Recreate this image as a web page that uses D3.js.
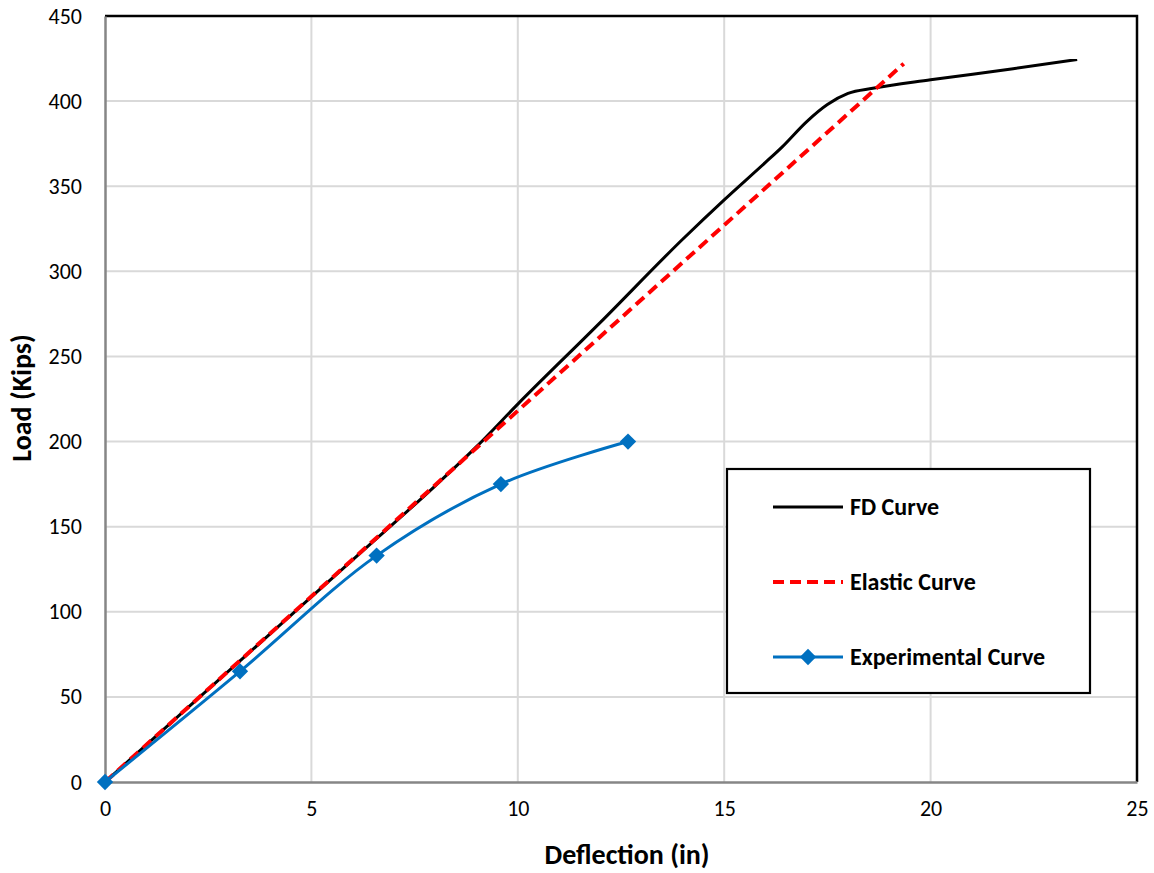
<!DOCTYPE html>
<html><head><meta charset="utf-8">
<script src="https://cdn.jsdelivr.net/npm/d3@7"></script>
<style>body{margin:0;background:#fff}svg{display:block}</style>
</head><body><svg id="c" width="1154" height="873"></svg>
<script>
const xTicks = [0,5,10,15,20,25];
const yTicks = [0,50,100,150,200,250,300,350,400,450];
const fdX = [0,2,4,6,8,9,10,12,14,15,16,16.4,17,17.5,18,18.6,20,22,23.55];
const fdY = [0,43.5,87,130.5,174,197,222,270,319,342,364,373,388,398,404.5,407.5,412.5,419,424.5];
const elX = [0,19.35];
const elY = [0,422];
const exX = [0,3.27,6.58,9.59,12.67];
const exY = [0,65,133,175,200];
const seriesNames = ["FD Curve","Elastic Curve","Experimental Curve"];

const svg = d3.select("#c");
const L=105,R=1137,T=16,B=782;
const x = d3.scaleLinear().domain([0,25]).range([L,R]);
const y = d3.scaleLinear().domain([0,450]).range([B,T]);
const font = "Carlito, Calibri, Lato, 'Open Sans', sans-serif";

// gridlines
svg.append("g").selectAll("line.v").data(xTicks.slice(1)).join("line")
  .attr("x1",d=>x(d)).attr("x2",d=>x(d)).attr("y1",T).attr("y2",B)
  .attr("stroke","#d9d9d9").attr("stroke-width",2);
svg.append("g").selectAll("line.h").data(yTicks.slice(1)).join("line")
  .attr("x1",L).attr("x2",R).attr("y1",d=>y(d)).attr("y2",d=>y(d))
  .attr("stroke","#d9d9d9").attr("stroke-width",2);

// border top/right
svg.append("path").attr("d",`M${L},${T}H${R}V${B}`).attr("fill","none")
  .attr("stroke","#000").attr("stroke-width",2.5);

// axes
const xa = svg.append("g").attr("transform",`translate(0,${B})`)
  .call(d3.axisBottom(x).tickValues(xTicks).tickSize(0).tickPadding(18));
const ya = svg.append("g").attr("transform",`translate(${L},0)`)
  .call(d3.axisLeft(y).tickValues(yTicks).tickSize(0).tickPadding(23));
[xa,ya].forEach(a=>{
  a.select(".domain").attr("stroke","#868686").attr("stroke-width",2.5);
  a.selectAll("text").attr("font-family",font).attr("font-size",22).attr("fill","#000");
});

// lines
const line = d3.line().x(d=>x(d[0])).y(d=>y(d[1]));
const fd = fdX.map((v,i)=>[v,fdY[i]]);
const el = elX.map((v,i)=>[v,elY[i]]);
const ex = exX.map((v,i)=>[v,exY[i]]);

svg.append("path").datum(fd).attr("d",line.curve(d3.curveMonotoneX)).attr("fill","none")
  .attr("stroke","#000").attr("stroke-width",3);
svg.append("path").datum(el).attr("d",line.curve(d3.curveLinear)).attr("fill","none")
  .attr("stroke","#ff0000").attr("stroke-width",4).attr("stroke-dasharray","11,6");
svg.append("path").datum(ex).attr("d",line.curve(d3.curveCatmullRom.alpha(0.5))).attr("fill","none")
  .attr("stroke","#0070c0").attr("stroke-width",3);
const diamond = d3.symbol().type(d3.symbolDiamond2).size(170);
svg.append("g").selectAll("path").data(ex).join("path")
  .attr("transform",d=>`translate(${x(d[0])},${y(d[1])})`)
  .attr("d",diamond).attr("fill","#0070c0");

// axis titles
svg.append("text").attr("x",627).attr("y",864).attr("text-anchor","middle")
  .attr("font-family",font).attr("font-weight","bold").attr("font-size",28).text("Deflection (in)");
svg.append("text").attr("transform","translate(31,398) rotate(-90)").attr("text-anchor","middle")
  .attr("font-family",font).attr("font-weight","bold").attr("font-size",28).text("Load (Kips)");

// legend
const lg = svg.append("g");
lg.append("rect").attr("x",727).attr("y",469).attr("width",363).attr("height",224)
  .attr("fill","#fff").attr("stroke","#000").attr("stroke-width",2.2);
const rows=[507,582,657];
lg.append("line").attr("x1",773).attr("x2",843).attr("y1",rows[0]).attr("y2",rows[0])
  .attr("stroke","#000").attr("stroke-width",3);
lg.append("line").attr("x1",773).attr("x2",843).attr("y1",rows[1]).attr("y2",rows[1])
  .attr("stroke","#ff0000").attr("stroke-width",4).attr("stroke-dasharray","11,6");
lg.append("line").attr("x1",773).attr("x2",843).attr("y1",rows[2]).attr("y2",rows[2])
  .attr("stroke","#0070c0").attr("stroke-width",3);
lg.append("path").attr("transform",`translate(808,${rows[2]})`).attr("d",diamond).attr("fill","#0070c0");
lg.selectAll("text").data(seriesNames).join("text")
  .attr("x",850).attr("y",(d,i)=>rows[i]+8).attr("font-family",font)
  .attr("font-weight","bold").attr("font-size",24).text(d=>d);
</script></body></html>
